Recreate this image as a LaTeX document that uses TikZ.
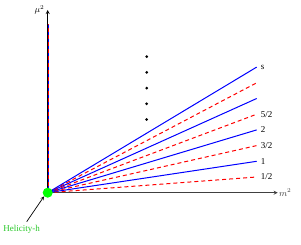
\documentclass[tikz,border=0pt]{standalone}
\usepackage{fontspec}
\setmainfont{Liberation Serif}
\usetikzlibrary{positioning}
\definecolor{helgreen}{RGB}{40,200,40}
\tikzset{
    lbl/.style={font=\fontsize{9}{10}\selectfont, inner sep=1pt},
    bosonline/.style={blue, line width=1pt},
    fermionline/.style={red, line width=1pt, dash pattern=on 4pt off 3pt},
}
\begin{document}
\begin{tikzpicture}[x=1pt, y=1pt]
    \useasboundingbox (-47.7,-52.3) rectangle (253.3,192.7);
    % 坐标轴
    \draw[->, >=stealth, black!75, line width=0.8pt] (0,0) -- (230,0) node[lbl, right] (mx) {$m^2$};
    \draw[->, >=stealth, line width=0.8pt] (0,0) -- (0,182.7) node[lbl, left=2pt] (my) {$\mu^2$};

    % 无质量态：竖直线
    \draw[bosonline] (1,0) -- (1,168.7);
    \draw[fermionline] (1,0) -- (1,168.7);

    % 各自旋的 Regge 直线
    \foreach \k/\txt in {1/1\slash2, 2/1, 3/3\slash2, 4/2, 5/5\slash2, 6/, 7/, 8/s} {
        \coordinate (e\k) at (209, {15.7*\k});
        \ifodd\k
            \draw[fermionline] (0,0) -- (e\k);
        \else
            \draw[bosonline] (0,0) -- (e\k);
        \fi
        \node[lbl, right=3pt] (l\k) at (e\k) {\txt};
    }

    % 省略号
    \foreach \i in {0,...,4}
        \fill (99, {136-15.7*\i}) circle (1.5);

    % 原点及标注
    \node[circle, fill=green, inner sep=0pt, minimum size=10pt] (o) at (0,0) {};
    \node[lbl, text=helgreen] (hel) at (-26,-36.3) {Helicity-h};
    \draw[->, >=stealth, line width=0.7pt] (hel.north) ++(5,2) -- (o.south west);
\end{tikzpicture}
\end{document}
